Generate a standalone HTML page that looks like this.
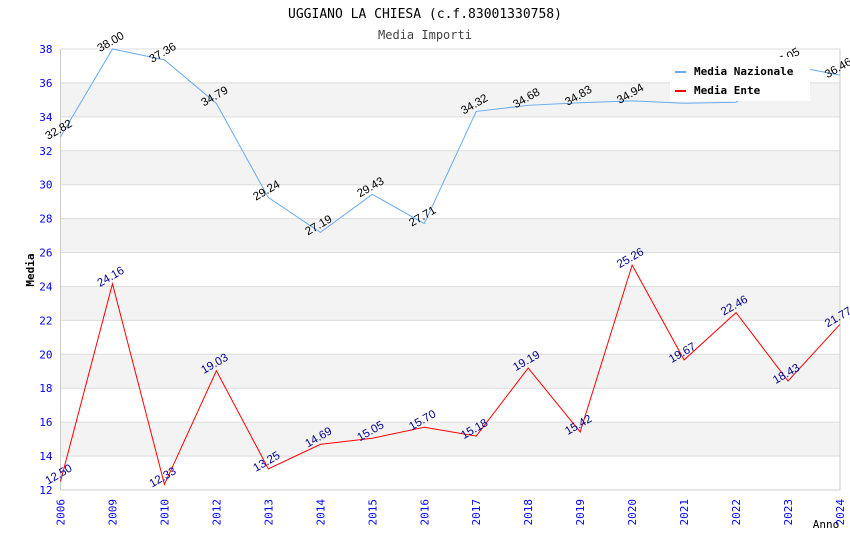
<!DOCTYPE html>
<html><head><meta charset="utf-8"><style>
body{margin:0;background:#fff;}
svg{display:block;font-family:"DejaVu Sans Mono","Liberation Mono",monospace;}
</style></head><body>
<svg id="chart" width="850" height="550" xmlns="http://www.w3.org/2000/svg">
<text x="425" y="18" text-anchor="middle" font-size="13" fill="#000">UGGIANO LA CHIESA (c.f.83001330758)</text>
<text x="425" y="39" text-anchor="middle" font-size="12" fill="#444">Media Importi</text>
<g id="bands"></g><g id="grid"></g><g id="axes"></g><g id="series"></g><g id="labels"></g>
<text transform="translate(34,270) rotate(-90)" text-anchor="middle" font-size="11" font-weight="bold" fill="#000">Media</text>
<text x="826" y="528" text-anchor="middle" font-size="11" fill="#000">Anno</text>
<g id="legend">
<rect x="670" y="57" width="140" height="44" fill="#fff"/>
<rect x="675" y="71" width="11" height="2" fill="#6aaaf0"/>
<text x="694" y="75" font-size="11" font-weight="bold">Media Nazionale</text>
<rect x="675" y="90" width="11" height="2" fill="#f00"/>
<text x="694" y="94" font-size="11" font-weight="bold">Media Ente</text>
</g>
</svg>
<script>
const categories=["2006","2009","2010","2012","2013","2014","2015","2016","2017","2018","2019","2020","2021","2022","2023","2024"];
const nazionale=[32.82,38.00,37.36,34.79,29.24,27.19,29.43,27.71,34.32,34.68,34.83,34.94,34.80,34.86,37.05,36.46];
const ente=[12.50,24.16,12.33,19.03,13.25,14.69,15.05,15.70,15.18,19.19,15.42,25.26,19.67,22.46,18.43,21.77];
const yTicks=[12,14,16,18,20,22,24,26,28,30,32,34,36,38];
const L=60.5,R=840,T=49,B=490,yMin=12,yMax=38;
const x=i=>L+i*(R-L)/(categories.length-1);
const y=v=>B-(v-yMin)*(B-T)/(yMax-yMin);
const NS="http://www.w3.org/2000/svg";
function mk(t,a,p){const e=document.createElementNS(NS,t);for(const k in a)e.setAttribute(k,a[k]);document.getElementById(p).appendChild(e);return e;}
for(let i=0;i<yTicks.length-1;i++){
 if(yTicks[i]%4===2){const r=mk('rect',{x:L,y:y(yTicks[i+1]),width:R-L,height:y(yTicks[i])-y(yTicks[i+1]),fill:'#f3f3f3'},'bands');
 
 }
}
yTicks.forEach(v=>{
 const l=mk('line',{x1:L,x2:R,y1:y(v),y2:y(v),stroke:'#ddd','stroke-width':1},'grid');
 
 
 const t=mk('text',{x:L-8,y:y(v)+4,'text-anchor':'end','font-size':11,fill:'#00f'},'axes');
 
 
 t.textContent=v;
});
mk('line',{x1:L,x2:L,y1:T,y2:B,stroke:'#ccc'},'axes');
mk('line',{x1:R,x2:R,y1:T,y2:B,stroke:'#ccc'},'axes');
mk('line',{x1:L,x2:R,y1:B,y2:B,stroke:'#ccc'},'axes');
categories.forEach((c,i)=>{
 const t=mk('text',{transform:`translate(${x(i)+4},${B+9}) rotate(-90)`,'text-anchor':'end','font-size':11,fill:'#00f'},'axes');
 
 
 t.textContent=c;
});
function series(vals,color,lc,name){
 const p=mk('polyline',{points:vals.map((v,i)=>x(i)+','+y(v)).join(' '),fill:'none',stroke:color,'stroke-width':1},'series');
 
 
 vals.forEach((v,i)=>{
  const px=x(i),py=y(v)-4;
  if(px>=660&&px<=760&&py>=52&&py<=108)return; // hidden behind legend
  const t=mk('text',{transform:`translate(${px},${py}) rotate(-30)`,'text-anchor':'middle','font-size':11.5,fill:lc,'font-family':'"Liberation Sans",sans-serif'},'labels');
  
  
  t.textContent=v.toFixed(2);
 });
}
series(nazionale,'#6aaaf0','#000','nazionale');
series(ente,'#f00','#00008b','ente');
document.getElementById('chart').appendChild(document.getElementById('legend'));
</script>
</body></html>
